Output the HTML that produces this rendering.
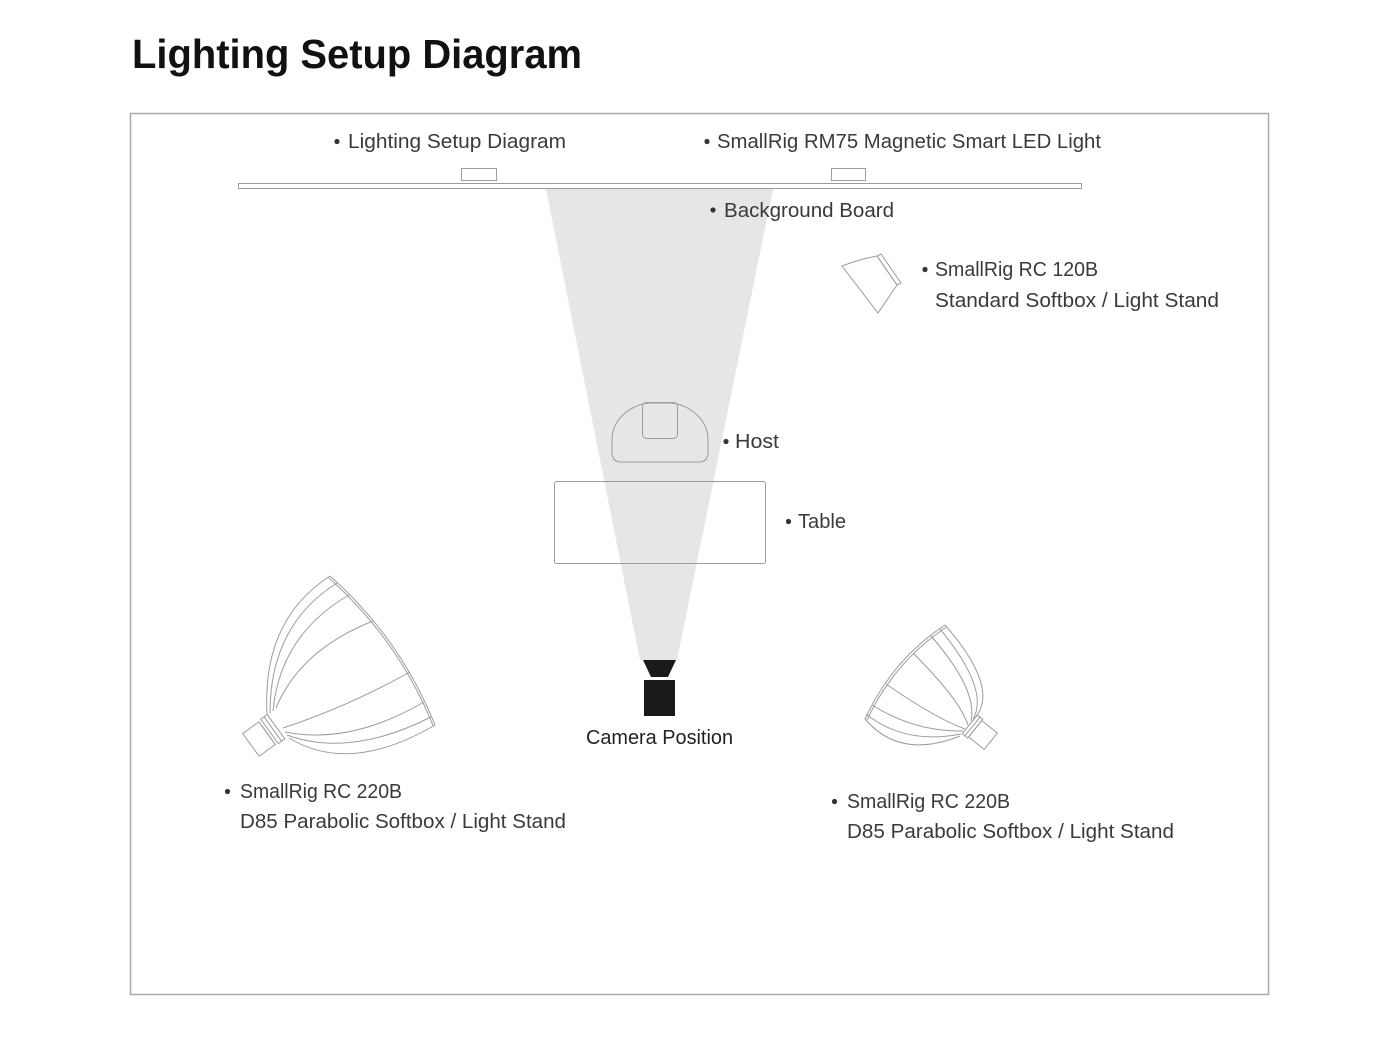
<!DOCTYPE html>
<html>
<head>
<meta charset="utf-8">
<style>
  html, body { margin: 0; padding: 0; background: #ffffff; }
  svg { display: block; }
  .lbl { font-family: "Liberation Sans", sans-serif; font-size: 20px; fill: #3a3a3a; }
  .ttl { font-family: "Liberation Sans", sans-serif; font-size: 41px; font-weight: bold; fill: #111111; }
  .ln { fill: none; stroke: #9c9c9c; stroke-width: 1; }
</style>
</head>
<body>
<svg width="1400" height="1050" viewBox="0 0 1400 1050" xmlns="http://www.w3.org/2000/svg">
  <rect x="0" y="0" width="1400" height="1050" fill="#ffffff"/>

  <!-- Title -->
  <text class="ttl" x="132" y="68" textLength="450" lengthAdjust="spacingAndGlyphs">Lighting Setup Diagram</text>

  <!-- Frame -->
  <rect x="130.5" y="113.5" width="1138" height="881" fill="none" stroke="#a9a9a9" stroke-width="1.5"/>

  <!-- Light cone -->
  <polygon points="546,189 773,189 677,660 640,660" fill="#e6e6e6"/>

  <!-- Background board -->
  <rect x="238.5" y="183.5" width="843" height="5" fill="#ffffff" stroke="#9c9c9c" stroke-width="1"/>
  <!-- RM75 lights -->
  <rect x="461.5" y="168.5" width="35" height="12" fill="#ffffff" stroke="#9c9c9c" stroke-width="1"/>
  <rect x="831.5" y="168.5" width="34" height="12" fill="#ffffff" stroke="#9c9c9c" stroke-width="1"/>

  <!-- Top labels -->
  <circle cx="337" cy="141.5" r="2.6" fill="#333"/>
  <text class="lbl" x="348" y="148" textLength="218" lengthAdjust="spacingAndGlyphs">Lighting Setup Diagram</text>
  <circle cx="707" cy="141.5" r="2.6" fill="#333"/>
  <text class="lbl" x="717" y="148" textLength="384" lengthAdjust="spacingAndGlyphs">SmallRig RM75 Magnetic Smart LED Light</text>

  <circle cx="713" cy="210" r="2.6" fill="#333"/>
  <text class="lbl" x="724" y="217" textLength="170" lengthAdjust="spacingAndGlyphs">Background Board</text>

  <!-- RC 120B small softbox -->
  <path class="ln" d="M842,266 Q860,259 877,256 L897,285 L878,313 Z" fill="#ffffff"/>
  <polygon class="ln" points="877,256 881,254 901,283 897,285" fill="#ffffff"/>
  <circle cx="925" cy="269.5" r="2.6" fill="#333"/>
  <text class="lbl" x="935" y="276" textLength="163" lengthAdjust="spacingAndGlyphs">SmallRig RC 120B</text>
  <text class="lbl" x="935" y="307" textLength="284" lengthAdjust="spacingAndGlyphs">Standard Softbox / Light Stand</text>

  <!-- Host -->
  <path class="ln" d="M621,462 Q612,462 612,452 L612,440 C612,416 636,403 650,403 L670,403 C684,403 708,416 708,440 L708,452 Q708,462 699,462 Z"/>
  <rect class="ln" x="642.5" y="402.5" width="35" height="36" rx="4"/>
  <circle cx="726" cy="441.5" r="2.6" fill="#333"/>
  <text class="lbl" x="735" y="448" textLength="44" lengthAdjust="spacingAndGlyphs">Host</text>

  <!-- Table -->
  <rect class="ln" x="554.5" y="481.5" width="211" height="82" rx="2"/>
  <circle cx="788.5" cy="521.5" r="2.6" fill="#333"/>
  <text class="lbl" x="798" y="528" textLength="48" lengthAdjust="spacingAndGlyphs">Table</text>

  <!-- Camera -->
  <polygon points="643,660 676,660 668,677 651,677" fill="#1a1a1a"/>
  <rect x="644" y="680" width="31" height="36" fill="#1a1a1a"/>
  <text class="lbl" x="586" y="744" textLength="147" lengthAdjust="spacingAndGlyphs" style="fill:#222">Camera Position</text>

  <!-- Left parabolic softbox -->
  <g>
    <path class="ln" d="M330,576 Q400,638 435,725"/>
    <path class="ln" d="M328.4,577.6 Q398.4,639.6 433.2,726"/>
    <path class="ln" d="M267,714 Q262,620 330,576"/>
    <path class="ln" d="M270,713 Q270,625 337,583"/>
    <path class="ln" d="M273,711 Q280,635 349,595"/>
    <path class="ln" d="M276,708 Q300,650 373,621"/>
    <path class="ln" d="M283,728 Q347,707 410,672"/>
    <path class="ln" d="M285,732 Q350,745 424,702"/>
    <path class="ln" d="M287,735 Q350,758 431,717"/>
    <path class="ln" d="M289,738 Q350,775 435,725"/>
    <g transform="translate(259,739) rotate(-35.8)">
      <rect class="ln" x="-10" y="-14" width="20" height="28" fill="#ffffff"/>
      <rect class="ln" x="13" y="-15" width="8" height="30" fill="#ffffff"/>
      <line class="ln" x1="17" y1="-15" x2="17" y2="15"/>
      <line class="ln" x1="10" y1="-13" x2="10" y2="13"/>
    </g>
  </g>
  <circle cx="227.5" cy="791.5" r="2.6" fill="#333"/>
  <text class="lbl" x="240" y="798" textLength="162" lengthAdjust="spacingAndGlyphs">SmallRig RC 220B</text>
  <text class="lbl" x="240" y="828" textLength="326" lengthAdjust="spacingAndGlyphs">D85 Parabolic Softbox / Light Stand</text>

  <!-- Right parabolic softbox -->
  <g>
    <path class="ln" d="M945,625 Q892,660 865,719"/>
    <path class="ln" d="M946.5,627 Q894,662 867,720"/>
    <path class="ln" d="M975,718 Q1000,688 945,625"/>
    <path class="ln" d="M973,719 Q990,690 940,629"/>
    <path class="ln" d="M971,721 Q978,690 931,636"/>
    <path class="ln" d="M968,725 Q960,700 913,653"/>
    <path class="ln" d="M965,729 Q935,718 886,684"/>
    <path class="ln" d="M963,731 Q915,732 872,705"/>
    <path class="ln" d="M961,734 Q905,745 866,714"/>
    <path class="ln" d="M960,736 Q900,760 865,719"/>
    <g transform="translate(983,735) rotate(-141.1)">
      <rect class="ln" x="-10" y="-10.5" width="20" height="21" fill="#ffffff"/>
      <rect class="ln" x="10" y="-12" width="7" height="24" fill="#ffffff"/>
      <line class="ln" x1="13.5" y1="-12" x2="13.5" y2="12"/>
    </g>
  </g>
  <circle cx="834.5" cy="801.5" r="2.6" fill="#333"/>
  <text class="lbl" x="847" y="808" textLength="163" lengthAdjust="spacingAndGlyphs">SmallRig RC 220B</text>
  <text class="lbl" x="847" y="838" textLength="327" lengthAdjust="spacingAndGlyphs">D85 Parabolic Softbox / Light Stand</text>
</svg>
</body>
</html>
